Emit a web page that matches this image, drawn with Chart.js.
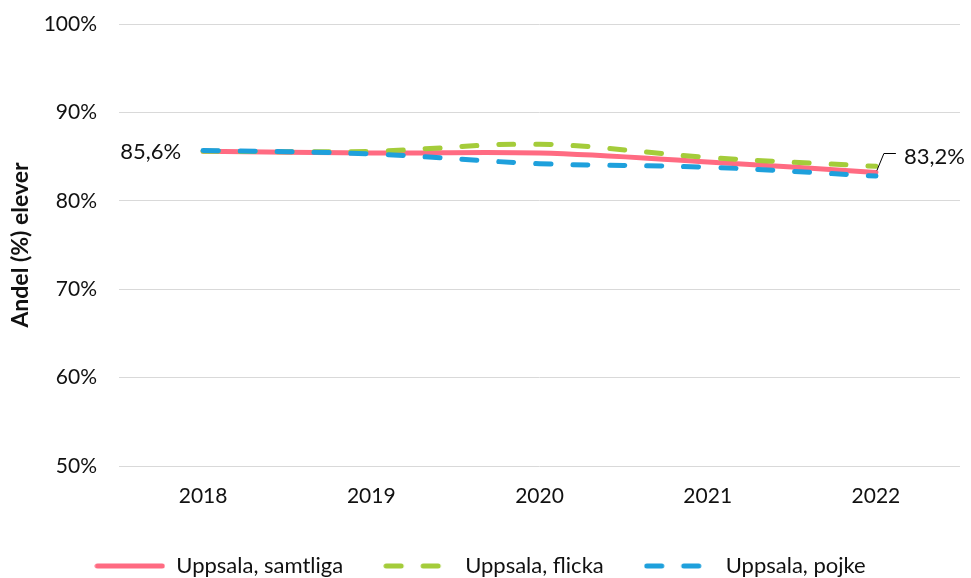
<!DOCTYPE html>
<html>
<head>
<meta charset="utf-8">
<script src="https://cdn.jsdelivr.net/npm/chart.js@4"></script>
<style>
  html, body { margin: 0; padding: 0; background: #fff; }
  #wrap { width: 971px; height: 578px; }
</style>
</head>
<body>
<div id="wrap"><canvas id="c" width="971" height="578"></canvas></div>
<script>
// ── Datos ────────────────────────────────────────────────────
const years = ['2018', '2019', '2020', '2021', '2022'];
const samtliga = [85.6, 85.4, 85.4, 84.4, 83.2];
const flicka = [85.6, 85.6, 86.4, 84.9, 83.9];
const pojke = [85.7, 85.3, 84.2, 83.8, 82.8];
const seriesNames = ['Uppsala, samtliga', 'Uppsala, flicka', 'Uppsala, pojke'];
const yTicks = [50, 60, 70, 80, 90, 100];

const FONT = 'Lato, "Open Sans", sans-serif';
const TXT = '#111';
const DASH = [15, 22];
const fmt = v => v.toFixed(1).replace('.', ',') + '%';

// Muestra de leyenda como imagen (el estilo 'line' de Chart.js pierde el trazo discontinuo)
function legendSwatch(color, dash) {
  const cv = document.createElement('canvas');
  cv.width = 71; cv.height = 8;
  const g = cv.getContext('2d');
  g.strokeStyle = color; g.lineWidth = 5; g.lineCap = 'round';
  g.setLineDash(dash);
  g.beginPath(); g.moveTo(3, 4); g.lineTo(68, 4); g.stroke();
  return cv;
}

// Etiquetas de dato: primer y último punto de "samtliga"
const endLabels = {
  id: 'endLabels',
  afterDatasetsDraw(chart) {
    const meta = chart.getDatasetMeta(0);
    const first = meta.data[0], last = meta.data[meta.data.length - 1];
    const ctx = chart.ctx;
    ctx.save();
    ctx.font = '22px ' + FONT;
    ctx.fillStyle = TXT;
    ctx.textBaseline = 'middle';
    ctx.textAlign = 'right';
    ctx.fillText(fmt(samtliga[0]), first.x - 22, first.y + 1);
    // línea guía hacia la etiqueta final
    ctx.strokeStyle = '#000';
    ctx.lineWidth = 1;
    ctx.beginPath();
    ctx.moveTo(last.x + 1, last.y - 2);
    ctx.lineTo(last.x + 8, last.y - 19);
    ctx.lineTo(last.x + 20, last.y - 19);
    ctx.stroke();
    ctx.textAlign = 'left';
    ctx.fillText(fmt(samtliga[samtliga.length - 1]), last.x + 28, last.y - 16);
    ctx.restore();
  }
};

const ds = (label, data, color, dash, order) => ({
  label, data, order,
  borderColor: color, backgroundColor: color,
  borderWidth: 5, borderDash: dash, borderCapStyle: 'round', borderJoinStyle: 'round',
  pointRadius: 0, pointHoverRadius: 0, tension: 0.35, fill: false,
  pointStyle: legendSwatch(color, dash)
});

new Chart(document.getElementById('c').getContext('2d'), {
  type: 'line',
  data: {
    labels: years,
    datasets: [
      ds(seriesNames[0], samtliga, '#ff6b82', [], 3),
      ds(seriesNames[1], flicka, '#a4cc3a', DASH, 2),
      ds(seriesNames[2], pojke, '#1ea0dc', DASH, 1)
    ]
  },
  options: {
    responsive: false, animation: false,
    layout: { padding: { top: 24, right: 11, left: 0, bottom: -9 } },
    plugins: {
      legend: {
        position: 'bottom',
        labels: {
          usePointStyle: true, pointStyleWidth: 71, boxHeight: 22,
          padding: 40, color: TXT, font: { family: FONT, size: 22 },
          sort: (a, b) => a.datasetIndex - b.datasetIndex
        }
      },
      tooltip: { enabled: false }
    },
    scales: {
      x: {
        offset: true,
        grid: { display: false, drawTicks: false },
        border: { display: false },
        ticks: { color: TXT, padding: 18, font: { family: FONT, size: 21 } },
        afterFit: s => { s.height = 49; }
      },
      y: {
        min: 50, max: 100,
        afterBuildTicks: s => { s.ticks = yTicks.map(v => ({ value: v })); },
        grid: { color: '#d9d9d9', lineWidth: 1, drawTicks: true, tickLength: 11, tickColor: 'rgba(0,0,0,0)' },
        border: { display: false },
        ticks: { color: TXT, padding: 11, font: { family: FONT, size: 21 }, callback: v => v + '%' },
        title: { display: true, text: 'Andel (%) elever', color: TXT, font: { family: FONT, size: 23, weight: 'bold' }, padding: { top: 7, bottom: 0 } },
        afterFit: s => { s.width = 119; }
      }
    }
  },
  plugins: [endLabels]
});
</script>
</body>
</html>
